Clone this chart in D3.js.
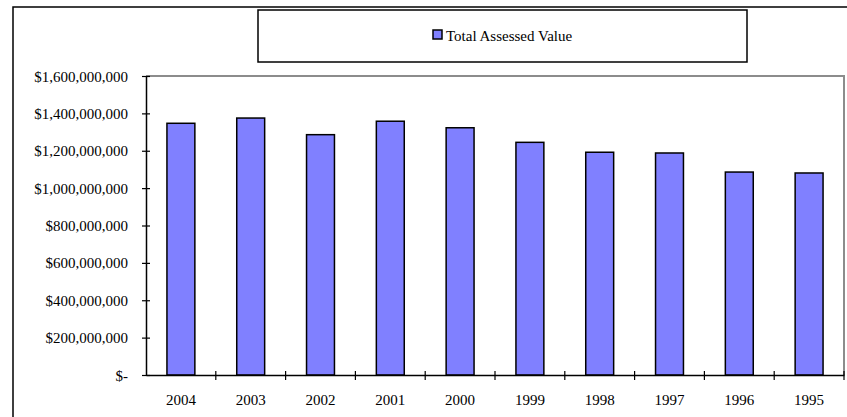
<!DOCTYPE html>
<html>
<head>
<meta charset="utf-8">
<script src="https://cdn.jsdelivr.net/npm/d3@7"></script>
<style>
html,body{margin:0;padding:0;background:#fff;}
svg{display:block;}
text{font-family:"Liberation Serif","Times New Roman",serif;fill:#000;}
</style>
</head>
<body>
<svg id="chart" width="847" height="417"></svg>
<script>
const categories = ["2004","2003","2002","2001","2000","1999","1998","1997","1996","1995"];
const totalAssessedValue = [1347000000,1375000000,1286000000,1358000000,1323000000,1245000000,1192000000,1188000000,1086000000,1081000000];
const yTicks = [0,200000000,400000000,600000000,800000000,1000000000,1200000000,1400000000,1600000000];
const seriesName = "Total Assessed Value";

const svg = d3.select("#chart");
const W = 847, H = 417;
const plot = {left:146, right:844, top:76, bottom:375};
const FS = "15px";

// outer chart border
svg.append("rect").attr("x",13).attr("y",7).attr("width",W+20).attr("height",H+20)
  .attr("fill","none").attr("stroke","#000").attr("stroke-width",1.5);

const x = d3.scaleBand().domain(categories).range([plot.left, plot.right]).paddingInner(0).paddingOuter(0);
const y = d3.scaleLinear().domain([0,1600000000]).range([plot.bottom, plot.top]);

// plot area frame (top & right in gray)
svg.append("path")
  .attr("d",`M${plot.left},${plot.top}H${plot.right}V${plot.bottom}`)
  .attr("fill","none").attr("stroke","#8c8c8c").attr("stroke-width",2);

// bars
const bw = x.bandwidth()*0.4;
svg.append("g").selectAll("rect").data(categories).join("rect")
  .attr("x",(d)=>x(d)+x.bandwidth()/2-bw/2)
  .attr("y",(d,i)=>y(totalAssessedValue[i]))
  .attr("width",bw)
  .attr("height",(d,i)=>y(0)-y(totalAssessedValue[i]))
  .attr("fill","#8080ff").attr("stroke","#000").attr("stroke-width",1.5);

const fmt = v => v===0 ? "$-" : "$" + d3.format(",")(v);

// y axis
const yAxis = d3.axisLeft(y).tickValues(yTicks).tickFormat(fmt).tickSizeInner(4).tickSizeOuter(0).tickPadding(14);
const gy = svg.append("g").attr("transform",`translate(${plot.left},0)`).call(yAxis);
gy.select(".domain").attr("stroke","#000").attr("stroke-width",1.5);
gy.selectAll(".tick line").attr("x2",-4).attr("x1",4).attr("stroke","#000").attr("stroke-width",1.2);
gy.selectAll(".tick text").attr("font-size",FS).attr("font-family","Liberation Serif").attr("x",-18).attr("dy","0.34em");

// x axis
const xAxis = d3.axisBottom(x).tickSize(0).tickPadding(19);
const gx = svg.append("g").attr("transform",`translate(0,${plot.bottom})`).call(xAxis);
gx.select(".domain").attr("stroke","#000").attr("stroke-width",1.5);
gx.selectAll(".tick text").attr("font-size",FS).attr("font-family","Liberation Serif");
// category boundary ticks
const bounds = categories.map(c=>x(c)).concat([plot.right]).slice(1);
svg.append("g").selectAll("line").data(bounds).join("line")
  .attr("x1",d=>d).attr("x2",d=>d).attr("y1",plot.bottom-4).attr("y2",plot.bottom+5)
  .attr("stroke","#000").attr("stroke-width",1.2);

// legend
const lg = svg.append("g");
lg.append("rect").attr("x",258).attr("y",10).attr("width",489).attr("height",52)
  .attr("fill","#fff").attr("stroke","#000").attr("stroke-width",1.5);
lg.append("rect").attr("x",433).attr("y",30).attr("width",9).attr("height",9)
  .attr("fill","#8080ff").attr("stroke","#000").attr("stroke-width",1.5);
lg.append("text").attr("x",446).attr("y",41).attr("font-size",FS).text(seriesName);
</script>
</body>
</html>
